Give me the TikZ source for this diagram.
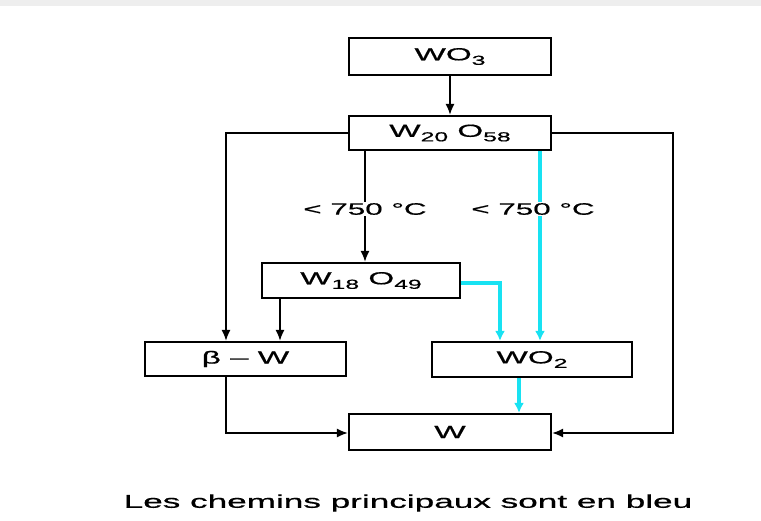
\documentclass[tikz,border=0pt]{standalone}
\usepackage{fontspec}
\setmainfont{Liberation Sans}[FakeStretch=1.9,FakeBold=0.7]
\usetikzlibrary{arrows.meta,calc}
\definecolor{pathblue}{RGB}{24,226,242}
\definecolor{bandgray}{RGB}{238,238,238}
% lowered index in the text font
\newcommand\chemsub[1]{\raisebox{-4.5pt}{\fontsize{13}{14}\selectfont #1}}
\begin{document}
\begin{tikzpicture}[x=1pt,y=-1pt,
  box/.style={draw=black,line width=2.2pt,fill=white,rectangle,inner sep=0pt,
    font=\fontsize{17.5}{19}\selectfont},
  link/.style={draw=black,line width=1.6pt,-{Latex[length=11pt,width=9pt]}},
  main/.style={draw=pathblue,line width=3.4pt,-{Latex[length=10pt,width=10pt]}},
  temp/.style={fill=white,inner sep=1pt,font=\fontsize{16.5}{18}\selectfont},
  caption/.style={font=\fontsize{18.5}{20}\selectfont}]
  % page and top band
  \fill[white] (0,0) rectangle (761,520);
  \fill[bandgray] (0,0) rectangle (761,6);
  \useasboundingbox (0,0) rectangle (761,520);

  % compounds
  \node[box,minimum width=202pt,minimum height=37pt] (wo3)  at (450,56.5) {WO\chemsub{3}};
  \node[box,minimum width=202pt,minimum height=34pt] (w20)  at (450,133)  {W\chemsub{20} O\chemsub{58}};
  \node[box,minimum width=198pt,minimum height=35pt] (w18)  at (361,280.5) {W\chemsub{18} O\chemsub{49}};
  \node[box,minimum width=201pt,minimum height=34pt] (beta) at (245.5,359) {β – W};
  \node[box,minimum width=200pt,minimum height=35pt] (wo2)  at (532,359.5) {WO\chemsub{2}};
  \node[box,minimum width=202pt,minimum height=36pt] (w)    at (450,432)  {W};

  % turning points of the outer routes
  \coordinate (lt) at (226,133);
  \coordinate (rt) at (673,133);
  \coordinate (rb) at (673,433);
  \coordinate (lb) at (226,433);
  \coordinate (cw) at (500,283);
  \coordinate (bx) at (365,0);
  \coordinate (cx) at (540,0);
  \coordinate (ax) at (280,0);
  \coordinate (dx) at (519,0);

  % black routes
  \draw[link] (wo3.south) -- (w20.north);
  \draw[link] (w20.west) -- (lt) -- (lt |- beta.north);
  \draw[link] (w20.east) -- (rt) -- (rb) -- (rb -| w.east);
  \draw[link] (w20.south -| bx) -- (w18.north -| bx);
  \draw[link] (w18.south -| ax) -- (beta.north -| ax);
  \draw[link] (beta.south -| lb) -- (lb) -- (lb -| w.west);

  % main routes
  \draw[main] (w20.south -| cx) -- (wo2.north -| cx);
  \draw[main] (w18.east |- cw) -- (cw) -- (cw |- wo2.north);
  \draw[main] (wo2.south -| dx) -- (w.north -| dx);

  % temperature labels
  \node[temp] (t1) at (365,209) {< 750 °C};
  \node[temp] (t2) at (533,209) {< 750 °C};

  \node[caption] (cap) at (408,503) {Les chemins principaux sont en bleu};
\end{tikzpicture}
\end{document}
